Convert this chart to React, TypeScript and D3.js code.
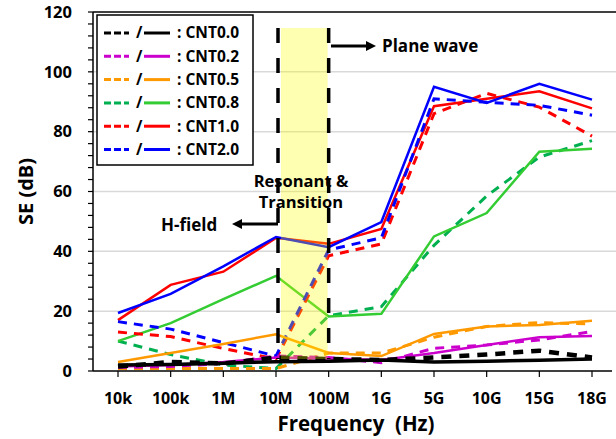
import * as d3 from "d3";

const categories = ["10k", "100k", "1M", "10M", "100M", "1G", "5G", "10G", "15G", "18G"];
const yTicks = [0, 20, 40, 60, 80, 100, 120];

const seriesNames = ["CNT0.0", "CNT0.2", "CNT0.5", "CNT0.8", "CNT1.0", "CNT2.0"];
const dashColors = ["#000000", "#cc00cc", "#ff9900", "#00b050", "#ff0000", "#0000ff"];
const solidColors = ["#000000", "#cc00cc", "#ff9900", "#33cc33", "#ff0000", "#0000ff"];

// dashed lines
const dash00 = [1.5, 3, 2.5, 4.5, 4, 3.7, 4.5, 5.5, 6.8, 4.5];
const dash02 = [1.2, 1.5, 2.5, 5, 4.5, 2.8, 7.6, 8.7, 10.4, 13.2];
const dash05 = [0.8, 0.8, 0.8, 0.8, 6, 6, 11.3, 14.9, 16.2, 15.7];
const dash08 = [10, 5.5, 2, 0.8, 18.5, 21.5, 42, 58.5, 71.5, 77];
const dash10 = [13, 11.5, 7.5, 4, 38.5, 42.5, 86, 92.8, 88.2, 78.5];
const dash20 = [16.5, 14, 9.5, 5, 40.5, 44.5, 91, 89.8, 88.8, 85.5];

// solid lines
const solid00 = [2, 2.2, 2.6, 3.1, 3.3, 3.7, 3, 3.3, 3.6, 4];
const solid02 = [1.5, 2, 3, 4.5, 4.2, 3.7, 6, 8.7, 11.3, 11.7];
const solid05 = [3, 6, 9, 12.3, 6, 5, 12.4, 14.9, 15.4, 16.8];
const solid08 = [10, 16, 24, 31.8, 18.2, 19.1, 45, 52.8, 73.3, 74.3];
const solid10 = [17, 28.8, 33.2, 44.5, 42.5, 47.5, 88.5, 91, 93.5, 87.8];
const solid20 = [19.4, 25.8, 35, 44.8, 41.4, 49.8, 95, 89.6, 96, 90.7];

const dashed = [dash00, dash02, dash05, dash08, dash10, dash20];
const solid = [solid00, solid02, solid05, solid08, solid10, solid20];

const W = 616;
const H = 439;
const left = 93;
const right = 616;
const top = 12;
const bottom = 371;
const font = "'Open Sans', 'Noto Sans', sans-serif";

export default function App() {
  const x = d3.scalePoint<string>().domain(categories).range([118, 592]);
  const y = d3.scaleLinear().domain([0, 120]).range([bottom, top]);
  const line = d3
    .line<number>()
    .x((_, i) => x(categories[i]) as number)
    .y((d) => y(d));

  const minor = d3.range(0, 121, 4);
  const x10M = x("10M") as number;
  const x100M = x("100M") as number;

  // draw order: low series last so black sits on top at the bottom
  const order = [3, 4, 5, 2, 1, 0];

  return (
    <svg
      width={W}
      height={H}
      style={{ position: "absolute", left: 0, top: 0, background: "#fff" }}
      fontFamily={font}
      fontWeight="bold"
    >
      {/* grid */}
      {yTicks.slice(1, -1).map((t) => (
        <line key={t} x1={left} x2={right} y1={y(t)} y2={y(t)} stroke="#d9d9d9" strokeWidth={1.5} />
      ))}
      <line x1={left} x2={right} y1={y(120)} y2={y(120)} stroke="#000" strokeWidth={1.5} />

      {/* lines */}
      {order.map((k) => (
        <g key={seriesNames[k]}>
          <path
            d={line(dashed[k]) ?? ""}
            fill="none"
            stroke={dashColors[k]}
            strokeWidth={k === 0 ? 4.5 : 3}
            strokeDasharray={k === 0 ? "10,8" : "9,7"}
          />
          <path d={line(solid[k]) ?? ""} fill="none" stroke={solidColors[k]} strokeWidth={k === 0 ? 3.5 : 2.5} />
        </g>
      ))}

      {/* resonant band */}
      <rect x={x10M + 5} y={28} width={x100M - x10M - 6} height={359 - 28} fill="#ffff00" opacity={0.3} />
      <line x1={x10M + 2} x2={x10M + 2} y1={28} y2={359} stroke="#000" strokeWidth={3.5} strokeDasharray="15,15" />
      <line x1={x100M} x2={x100M} y1={28} y2={359} stroke="#000" strokeWidth={3.5} strokeDasharray="15,15" />

      {/* axes */}
      <line x1={left} x2={left} y1={top} y2={bottom} stroke="#000" strokeWidth={1.5} />
      <line x1={left} x2={right - 4} y1={bottom} y2={bottom} stroke="#000" strokeWidth={1.5} />
      {minor.map((t) => (
        <line key={t} x1={left - 5} x2={left} y1={y(t)} y2={y(t)} stroke="#000" strokeWidth={1.2} />
      ))}
      {yTicks.map((t) => (
        <text key={t} x={72} y={y(t)} dy="0.35em" textAnchor="end" fontSize={16.5}>
          {t}
        </text>
      ))}
      {categories.map((c) => (
        <g key={c}>
          <line x1={x(c)} x2={x(c)} y1={bottom} y2={bottom + 6} stroke="#000" strokeWidth={1.2} />
          <text x={x(c)} y={404} textAnchor="middle" fontSize={16}>
            {c}
          </text>
        </g>
      ))}
      <text x={356} y={431} textAnchor="middle" fontSize={20.5} xmlSpace="preserve">
        Frequency  (Hz)
      </text>
      <text transform={`translate(33,${(top + bottom) / 2}) rotate(-90)`} textAnchor="middle" fontSize={20}>
        SE (dB)
      </text>

      {/* annotations */}
      <line x1={331} x2={368} y1={46} y2={46} stroke="#000" strokeWidth={3} />
      <path d="M366,41 L376,46 L366,51 Z" fill="#000" />
      <text x={382} y={52} fontSize={17}>
        Plane wave
      </text>
      <text x={301} y={187} textAnchor="middle" fontSize={16.5}>
        Resonant &amp;
      </text>
      <text x={301} y={208} textAnchor="middle" fontSize={16.5}>
        Transition
      </text>
      <line x1={278} x2={240} y1={224} y2={224} stroke="#000" strokeWidth={3} />
      <path d="M242,219 L232,224 L242,229 Z" fill="#000" />
      <text x={161} y={231} fontSize={17}>
        H-field
      </text>

      {/* legend */}
      <rect x={97} y={15} width={156} height={150} fill="#fff" stroke="#000" strokeWidth={1.5} />
      {seriesNames.map((n, i) => {
        const ly = 33 + i * 23.3;
        return (
          <g key={n}>
            <line x1={104} x2={129} y1={ly} y2={ly} stroke={dashColors[i]} strokeWidth={3} strokeDasharray="7,3" />
            <text x={136} y={ly} dy="0.35em" fontSize={15.5}>
              /
            </text>
            <line x1={144} x2={170} y1={ly} y2={ly} stroke={solidColors[i]} strokeWidth={3} />
            <text x={177} y={ly} dy="0.35em" fontSize={15.5}>
              : {n}
            </text>
          </g>
        );
      })}
    </svg>
  );
}
